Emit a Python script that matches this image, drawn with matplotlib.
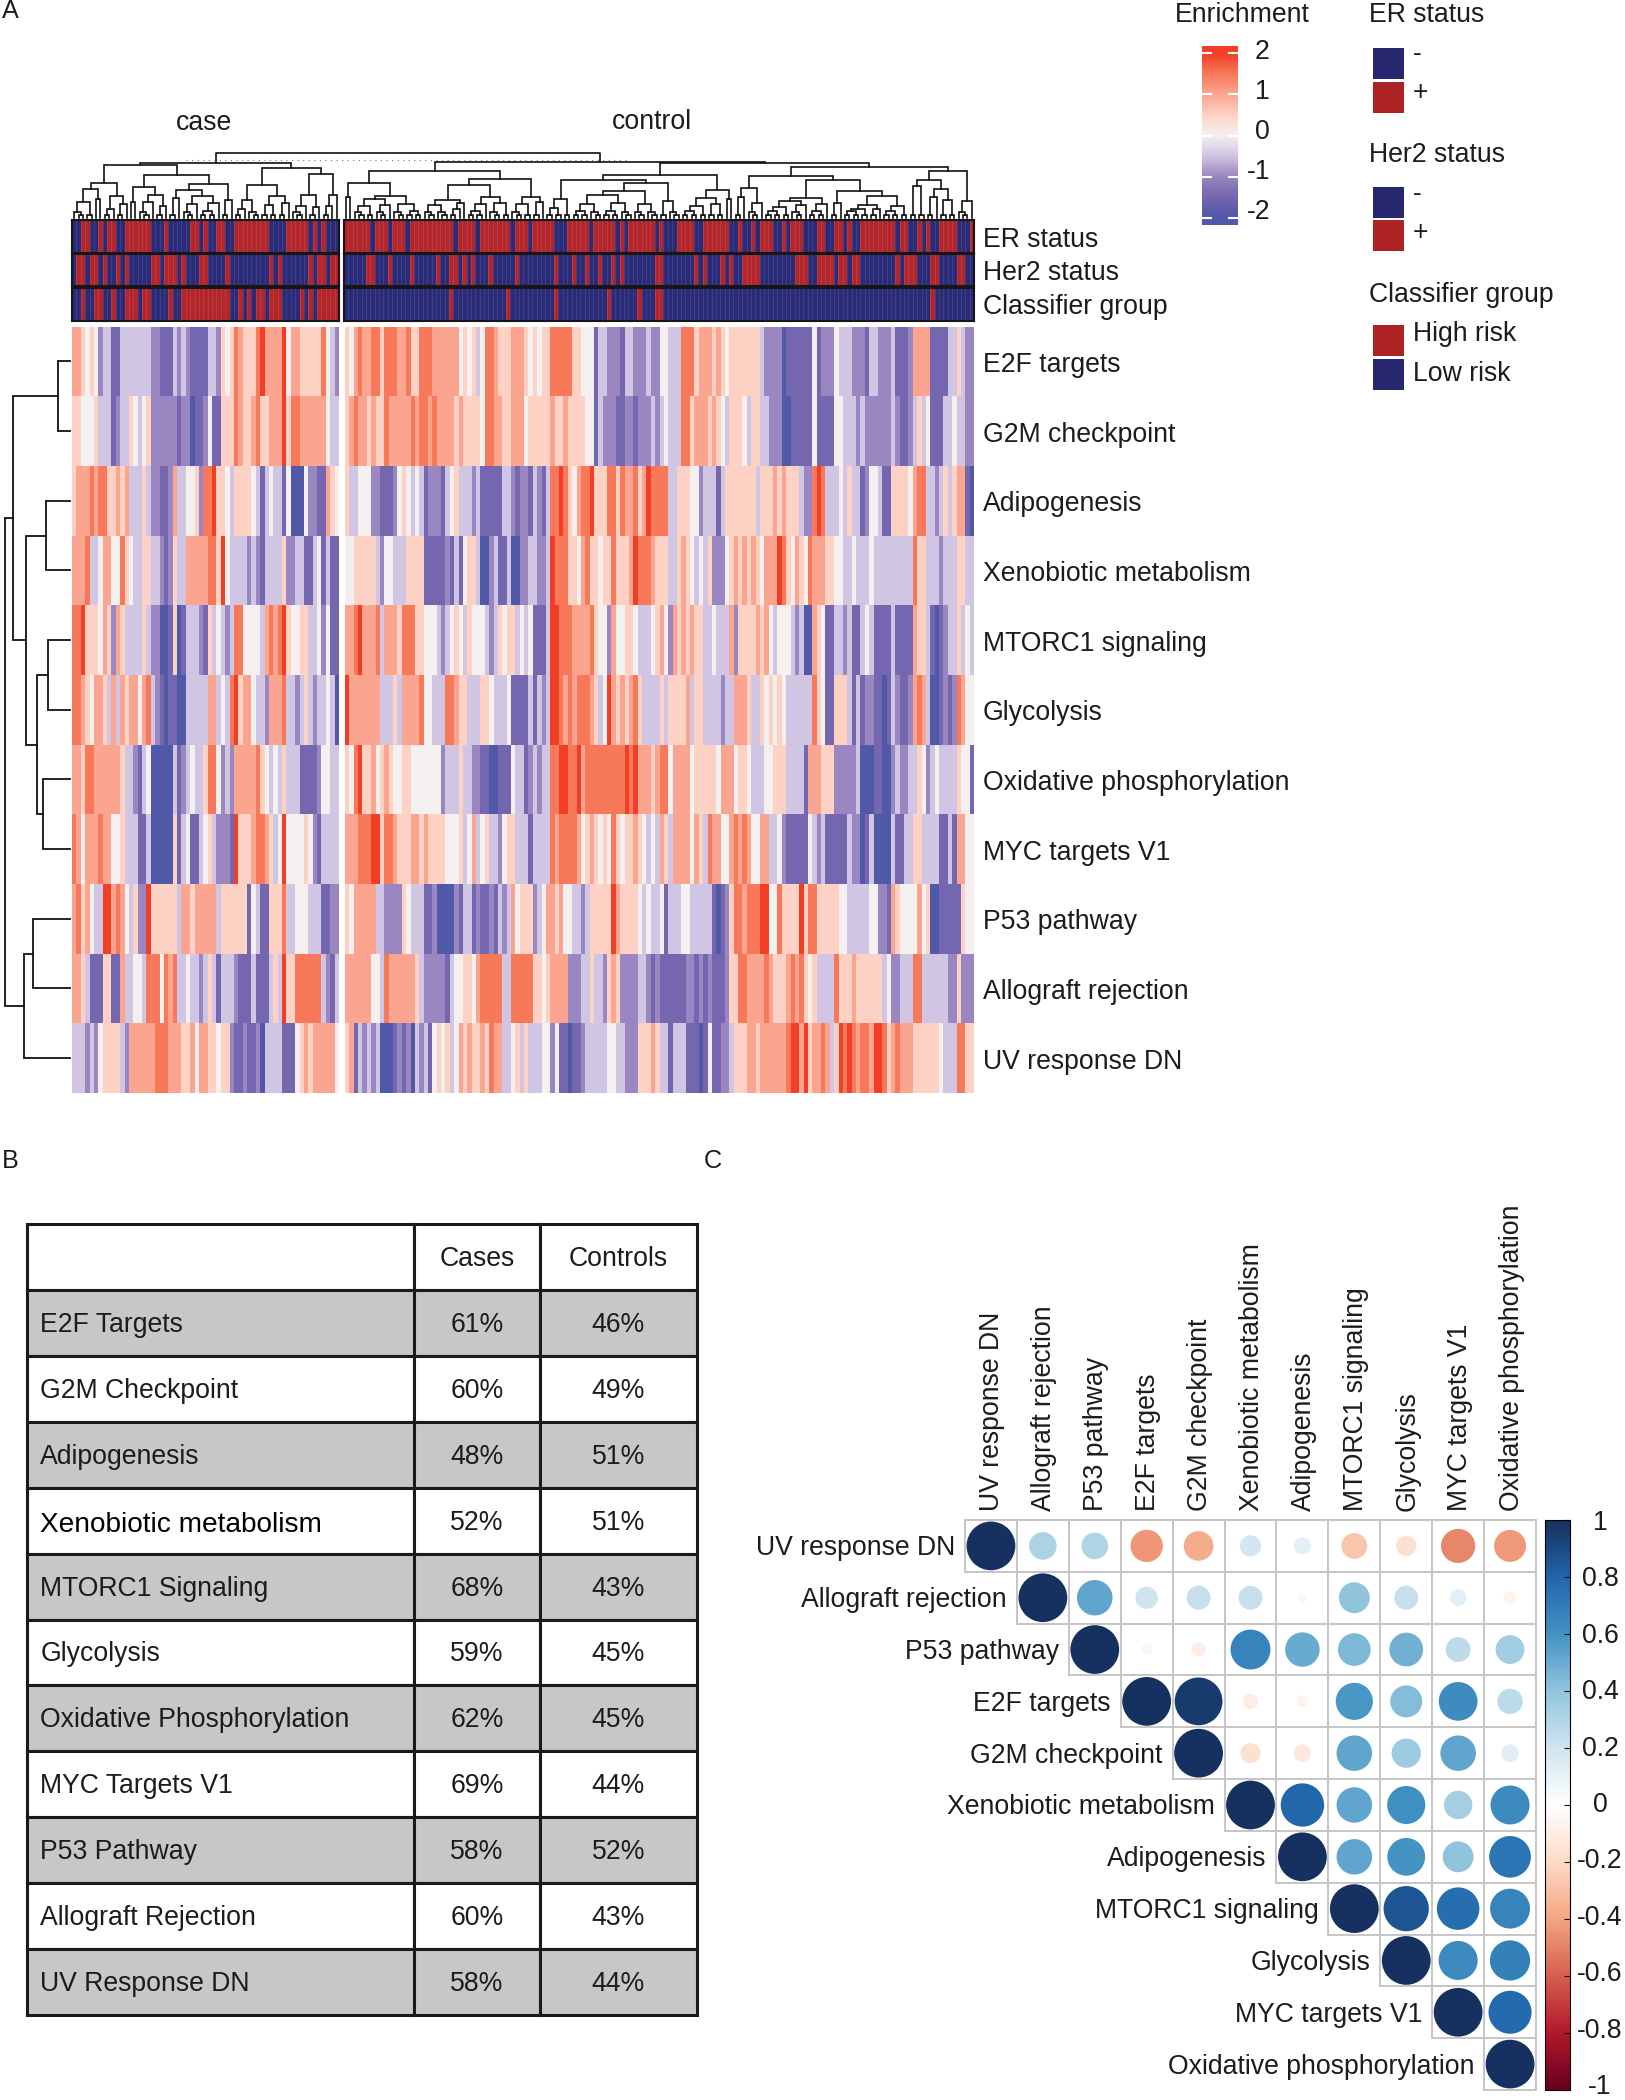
import numpy as np
import matplotlib
matplotlib.use('Agg')
import matplotlib.pyplot as plt
from matplotlib.colors import LinearSegmentedColormap, ListedColormap, Normalize
from matplotlib.cm import ScalarMappable
from matplotlib.patches import Circle, Rectangle
from matplotlib.transforms import Affine2D

plt.rcParams['font.family'] = ['Liberation Sans', 'DejaVu Sans']
W, H = 1625, 2100
FS = 19.2
TXT = '#1c1c1c'

# ---- data ----
pathways = ['E2F targets', 'G2M checkpoint', 'Adipogenesis', 'Xenobiotic metabolism', 'MTORC1 signaling',
            'Glycolysis', 'Oxidative phosphorylation', 'MYC targets V1', 'P53 pathway', 'Allograft rejection',
            'UV response DN']

# enrichment, one digit per sample: 0=-2, 4=0, 8=+2 (half steps)
heat_case = [
    '6654542331 1333333322 1113232111 1332545765 5578666684 6655555743 2',
    '5544453331 2335434522 2222122011 2411555765 5675566685 7766666643 3',
    '5666767755 6563335322 1126334452 7785543555 5431343314 0004221165 4',
    '6667334664 4754335533 2125336666 6775843333 2321333352 2331134131 1',
    '7785554652 6533335322 0015013332 1534323774 4443676785 4455334241 1',
    '7765466536 3656646732 1011003333 3663437856 6433266673 3235323343 0',
    '6657766666 6533213400 0003123433 5774232666 6675434353 3311112443 3',
    '7646667664 4533311300 0005134113 4532221855 5677653484 4445421333 3',
    '6756433886 7643522855 5555366566 6663555555 1431155573 3444333112 2',
    '6653111551 1633443777 4767334332 3531333211 1311135385 5777777321 3',
    '3332324555 5326666667 7766655646 6554552112 1120333311 1456566666 4',
]
heat_control = [
    '5467667757 7766755777 6666664545 3477655566 6545455777 7755444133 2221332223 2244333777 5666565455 5555532222 0111111412 2243332221 3322231112 6666111133 5322',
    '5676656557 6666676776 7666656555 5477665566 6455555655 6555544132 2211221222 3234333775 6665654355 5435533222 0011111411 1144333232 2222232112 3534111334 3322',
    '5334442211 1245434312 2213453332 3111113321 2213213778 7546778555 7757667568 7777335554 4233313555 5555355565 6555322787 3334353312 4431155554 6773323535 6610',
    '4455555324 4333555511 1112131455 3002311300 2233223877 7554675545 5755568777 6555335654 3435222456 5656546668 7546547666 5544334333 4333333333 7553332333 5533',
    '6678666736 6657775544 4323454354 4432354553 4341113887 7766667544 2644554333 4564265656 5533433362 5555656434 4432300654 1133231134 3111131111 6553101233 5343',
    '8666666633 3536666744 3337765533 3554333411 1131323887 6767776534 8656567533 3353555563 5533332336 6653354545 4333333754 1155531312 2110132112 6763001212 7644',
    '5478556456 5445544444 4423335332 2110011143 3123233778 8778677777 7777878666 5677466664 5555546664 5543334455 5333316665 5522222300 0110023223 3542343333 5441',
    '6667778857 7655566565 5554445346 3453324553 3313333767 7776456545 4754556543 4365366664 6537664467 6764466334 2111114323 1111132201 3000031133 5533331131 6644',
    '5466666332 2225433311 2000021331 2112132364 5552346656 4433235555 5865555434 3341333443 3333101257 7677788447 5555857755 5554433333 4422165444 4645001111 1544',
    '6666664437 6666665322 2221344554 6777773377 7775545666 6222335332 5652222332 1211111122 1212111255 7766667655 5676754533 3375556555 5553422333 7733333322 5222',
    '5613232300 0121203231 4545346565 5657663345 3533344241 1011233333 4433222555 6533133311 1014112235 5566566666 6788685667 6358787677 6887567666 5555554333 7755',
]

annot_names = ['ER status', 'Her2 status', 'Classifier group']
er_case = '0011001011 0011111100 0100000110 1001100111 1111100001 1111010100 0'
her2_case = '0110110100 1010000011 0111010001 1000010000 0000010100 0000101101 1'
group_case = '0010011001 0011101100 0010011111 1111110010 1011011100 0010101111 1'
er_control = ('1111110111 0111011111 1111101111 0111111101 1101111100 0111110111 1101011111 '
              '1010001111 0011111100 1001011100 1011100011 0011010011 1111110110 0101001111 0001')
her2_control = ('0000011000 1000010000 0100110101 0001000001 0000000010 0010010010 0101000000 '
                '0110000000 1010001010 0111100000 0001110011 1101101100 0000001011 1000110000 1100')
group_control = ('0000000000 0000000000 0000100000 0000000100 0000000010 0000000000 1000000100 '
                 '0110000000 0000000000 0000000000 0000000000 0000000000 0000000000 0000100000 0000')

# dendrograms: [height, left, right], 0 is a leaf
P = [3, 0, 0]
T = [6, 0, P]
Q = [7, P, P]

tree_case = [55,
             [53,
              [35, [29, [16, T, P], [19, 0, 0]], [22, [9, P, 0], [14, P, 0]]],
              [43,
               [31, [16, 0, 0], [23, [16, T, 0], [12, P, 0]]],
               [34, [28, [20, P, 0], [22, [14, T, 0], [15, Q, 0]]], [18, P, 0]]]],
             [50,
              [33, [18, [9, P, 0], T], [22, [13, P, P], [15, P, 0]]],
              [44, [23, [12, T, 0], [11, P, 0]], [23, [12, P, 0], 0]]]]
tree_control = [56,
                [47,
                 [35, [21, 0, 0], [22, [19, [12, T, P], [13, T, 0]], [14, T, Q]]],
                 [39,
                  [33, [18, [13, T, T], [15, [9, P, 0], 0]], [21, [14, Q, 0], [15, T, P]]],
                  [21, [14, T, P], [16, P, 0]]]],
                [55,
                 [43,
                  [38, [19, [10, P, P], P],
                   [35, [27, [23, [14, Q, T], [15, Q, T]], [14, T, T]], [17, P, T]]],
                  [28, [20, [12, Q, P], [14, P, P]], [19, 0, 0]]],
                 [51,
                  [42,
                   [30, [21, P, 0], [15, T, 0]],
                   [38,
                    [20, [17, [11, Q, P], [13, T, 0]], [14, Q, 0]],
                    [27, [15, P, 0], [22, [13, [9, Q, P], [9, P, 0]], [12, Q, P]]]]],
                  [47,
                   [38, [32, P, P], [29, [21, P, 0], [18, P, P]]],
                   [17, T, 0]]]]]
tree_rows = [65,
             [57,
              [12, 0, 0],
              [44, [24, 0, 0], [33, [22, 0, 0], [27, 0, 0]]]],
             [46, [37, 0, 0], 0]]

table_header = ['', 'Cases', 'Controls']
table_names = ['E2F Targets', 'G2M Checkpoint', 'Adipogenesis', 'Xenobiotic metabolism', 'MTORC1 Signaling',
               'Glycolysis', 'Oxidative Phosphorylation', 'MYC Targets V1', 'P53 Pathway', 'Allograft Rejection',
               'UV Response DN']
table_cases = ['61%', '60%', '48%', '52%', '68%', '59%', '62%', '69%', '58%', '60%', '58%']
table_controls = ['46%', '49%', '51%', '51%', '43%', '45%', '45%', '44%', '52%', '43%', '44%']

corr_names = ['UV response DN', 'Allograft rejection', 'P53 pathway', 'E2F targets', 'G2M checkpoint',
              'Xenobiotic metabolism', 'Adipogenesis', 'MTORC1 signaling', 'Glycolysis', 'MYC targets V1',
              'Oxidative phosphorylation']
# upper triangle, each row starts at the diagonal
corr = [
    [1, .32, .30, -.44, -.37, .19, .12, -.28, -.17, -.49, -.43],
    [1, .53, .21, .24, .24, .04, .40, .24, .12, -.07],
    [1, -.05, -.09, .67, .50, .45, .48, .26, .35],
    [1, .96, -.10, -.06, .58, .43, .63, .27],
    [1, -.17, -.13, .53, .36, .53, .13],
    [1, .79, .53, .61, .34, .64],
    [1, .53, .60, .40, .73],
    [1, .86, .76, .67],
    [1, .64, .68],
    [1, .78],
    [1],
]

enrich_ticks = [2, 1, 0, -1, -2]
corr_ticks = [1, .8, .6, .4, .2, 0, -.2, -.4, -.6, -.8, -1]

# ---- colours ----
heat_cmap = LinearSegmentedColormap.from_list('heat', ['#5058a8', '#7466af', '#9a86c0', '#d0c4e2', '#f4f0f0',
                                                       '#fdd3c6', '#fba691', '#f87a5c', '#f23e25'])
annot_cmap = ListedColormap(['#2a2b78', '#b2252b'])
corr_cmap = LinearSegmentedColormap.from_list('corr', ['#67001f', '#b2182b', '#d6604d', '#f4a582', '#fddbc7',
                                                       '#ffffff', '#d1e5f0', '#92c5de', '#4393c3', '#2166ac',
                                                       '#16305f'])
NAVY, RED = '#26276f', '#ad2222'


def digits(s):
    return np.array([int(c) for c in s.replace(' ', '')], dtype=float)


def px_axes(x0, y0, x1, y1):
    a = fig.add_axes([x0 / W, 1 - y1 / H, (x1 - x0) / W, (y1 - y0) / H])
    a.set_xticks([])
    a.set_yticks([])
    return a


def draw_tree(a, node, start, step, flip=False, lw=1.2):
    # walks the tree and returns (position, height, next free leaf)
    if node == 0:
        return start + step * 0.5, 0, start + step
    h = node[0]
    p1, h1, nxt = draw_tree(a, node[1], start, step, flip, lw)
    p2, h2, nxt = draw_tree(a, node[2], nxt, step, flip, lw)
    xs = [p1, p1, p2, p2]
    ys = [h1, h, h, h2]
    if flip:
        a.plot(ys, xs, color='#111111', lw=lw, solid_joinstyle='miter', clip_on=False)
    else:
        a.plot(xs, ys, color='#111111', lw=lw, solid_joinstyle='miter', clip_on=False)
    return (p1 + p2) / 2, h, nxt


fig = plt.figure(figsize=(W / 100, H / 100), dpi=100, facecolor='white')

# overlay for free text and the legend squares, in picture pixels
ov = fig.add_axes([0, 0, 1, 1], zorder=5)
ov.set_xlim(0, W)
ov.set_ylim(H, 0)
ov.axis('off')
ov.patch.set_alpha(0)

for s, x, y in [('A', 2, 11), ('B', 2, 1161), ('C', 704, 1161)]:
    ov.text(x, y, s, fontsize=FS - 1, color=TXT, va='center', ha='left')
ov.text(204, 123, 'case', fontsize=FS, color=TXT, ha='center', va='center')
ov.text(652, 122, 'control', fontsize=FS, color=TXT, ha='center', va='center')

# ---- A: heatmap ----
n_case, n_ctrl = len(digits(heat_case[0])), len(digits(heat_control[0]))
case_x = (72, 339)
ctrl_x = (345, 974)
heat_top, heat_bot = 326.5, 1093
row_h = (heat_bot - heat_top) / len(pathways)

mat_case = np.array([digits(r) for r in heat_case]) / 2 - 2
mat_ctrl = np.array([digits(r) for r in heat_control]) / 2 - 2
for mat, xr in [(mat_case, case_x), (mat_ctrl, ctrl_x)]:
    a = px_axes(xr[0], heat_top, xr[1], heat_bot)
    a.pcolormesh(mat, cmap=heat_cmap, vmin=-2, vmax=2, rasterized=True)
    a.set_ylim(len(pathways), 0)
    for sp in a.spines.values():
        sp.set_visible(False)

for i, name in enumerate(pathways):
    ov.text(983, heat_top + row_h * (i + 0.5) + 3.5, name, fontsize=FS, color=TXT, va='center', ha='left')

# annotation strips
strip_y = [(220, 253), (254, 286), (288, 321)]
annot_rows = [(er_case, er_control), (her2_case, her2_control), (group_case, group_control)]
label_y = [240, 273, 307]
for k, name in enumerate(annot_names):
    for s, xr in zip(annot_rows[k], [(72, 339), (344, 974)]):
        a = px_axes(xr[0], strip_y[k][0], xr[1], strip_y[k][1])
        v = digits(s).reshape(1, -1)
        a.pcolormesh(v, cmap=annot_cmap, vmin=0, vmax=1, rasterized=True)
        a.vlines(np.arange(1, v.shape[1]), 0, 1, color='white', alpha=0.14, lw=0.5)
        for sp in a.spines.values():
            sp.set_linewidth(1.5)
            sp.set_color('#161616')
    ov.text(983, label_y[k], name, fontsize=FS, color=TXT, va='center', ha='left')

# column dendrogram, one axis over both groups, x in sample widths
col_w = (339 - 72) / n_case
gap = (344 - 339) / col_w
tree_ax = px_axes(72, 153, 974, 218)
tree_ax.set_xlim(0, n_case + gap + n_ctrl)
tree_ax.set_ylim(0, 65)
tree_ax.axis('off')
x_case, h_case, _ = draw_tree(tree_ax, tree_case, 0, 1)
x_ctrl, h_ctrl, _ = draw_tree(tree_ax, tree_control, n_case + gap, 1)
tree_ax.plot([x_case, x_case, x_ctrl, x_ctrl], [h_case, 65, 65, h_ctrl], color='#111111', lw=1.2, clip_on=False)
tree_ax.plot([26, 127], [58, 58], color='#777777', lw=0.8, ls=(0, (1, 4)))

# row dendrogram
row_ax = px_axes(0, heat_top, 70, heat_bot)
row_ax.set_xlim(70, 0)
row_ax.set_ylim(len(pathways), 0)
row_ax.axis('off')
draw_tree(row_ax, tree_rows, 0, 1, flip=True, lw=1.3)

# enrichment colour bar
enrich_ax = px_axes(1202, 46, 1238, 225)
enrich_ax.imshow(np.linspace(2.17, -2.17, 256).reshape(-1, 1), aspect='auto', cmap=heat_cmap, vmin=-2, vmax=2,
                 extent=[0, 1, -2.17, 2.17])
for sp in enrich_ax.spines.values():
    sp.set_visible(False)
for t in enrich_ticks:
    enrich_ax.plot([0, 0.25], [t, t], color='white', lw=1.5)
    enrich_ax.plot([0.75, 1], [t, t], color='white', lw=1.5)
    ov.text(1270, 132 - 40 * t, str(t), fontsize=FS, color=TXT, ha='right', va='center')
enrich_ax.set_xlim(0, 1)
enrich_ax.set_ylim(-2.17, 2.17)
ov.text(1175, 15, 'Enrichment', fontsize=FS, color=TXT, va='center', ha='left')

# legends
ov.text(1369, 15, 'ER status', fontsize=FS, color=TXT, va='center', ha='left')
ov.text(1369, 155, 'Her2 status', fontsize=FS, color=TXT, va='center', ha='left')
ov.text(1369, 295, 'Classifier group', fontsize=FS, color=TXT, va='center', ha='left')
legend_boxes = [(48, NAVY, '-', 54), (82, RED, '+', 93), (187, NAVY, '-', 194), (220, RED, '+', 233),
                (325, RED, 'High risk', 334), (359, NAVY, 'Low risk', 374)]
for y0, col, lab, ty in legend_boxes:
    ov.add_patch(Rectangle((1373, y0), 31, 31, facecolor=col, edgecolor='none'))
    ov.text(1413, ty, lab, fontsize=FS, color=TXT, va='center', ha='left')

# ---- B: table ----
tab_ax = px_axes(27, 1224, 697, 2015)
tab_ax.axis('off')
cells = [table_header] + [[a1, b1, c1] for a1, b1, c1 in zip(table_names, table_cases, table_controls)]
tab = tab_ax.table(cellText=cells, bbox=[0, 0, 1, 1], colWidths=[387 / 670, 126 / 670, 157 / 670], cellLoc='center')
tab.auto_set_font_size(False)
for (r, c), cell in tab.get_celld().items():
    cell.set_edgecolor('#1a1a1a')
    cell.set_linewidth(2.2)
    cell.set_facecolor('#c6c7c9' if r % 2 == 1 else 'white')
    cell.get_text().set_fontsize(FS)
    cell.get_text().set_color(TXT)
    # cell text is placed in display pixels, so this just nudges it down
    cell.get_text().set_transform(Affine2D().translate(0, -2))
    if c == 0:
        cell.get_text().set_ha('left')
        cell.PAD = 0.034
        cell._loc = 'left'
tab[(4, 0)].get_text().set_fontsize(20.2)
tab[(4, 0)].get_text().set_color('black')
tab[(4, 0)].get_text().set_transform(Affine2D().translate(0, -4))

# ---- C: correlation plot ----
corr_ax = px_axes(965, 1520, 1536, 2090)
n = len(corr_names)
corr_ax.set_xlim(0, n)
corr_ax.set_ylim(n, 0)
corr_ax.axis('off')
norm = Normalize(-1, 1)
for i, row in enumerate(corr):
    for j, val in enumerate(row):
        x = i + j
        corr_ax.add_patch(Rectangle((x, i), 1, 1, facecolor='white', edgecolor='#c6c6c6', lw=1.4, clip_on=False))
        corr_ax.add_patch(Circle((x + 0.5, i + 0.5), 0.47 * np.sqrt(abs(val)), facecolor=corr_cmap(norm(val)),
                                 edgecolor='none', zorder=3))

cell_px = (1536 - 965) / n
for i, name in enumerate(corr_names):
    ov.text(965 + cell_px * i - 10, 1520 + cell_px * (i + 0.5) + 2, name, fontsize=FS, color=TXT, ha='right',
            va='center')
    ov.text(965 + cell_px * (i + 0.5) + 1.5, 1511, name, fontsize=FS, color=TXT, ha='center', va='bottom',
            rotation=90)

cb_ax = fig.add_axes([1545 / W, 1 - 2090 / H, 25 / W, 570 / H])
cb = fig.colorbar(ScalarMappable(norm=norm, cmap=corr_cmap), cax=cb_ax, ticks=corr_ticks)
cb.outline.set_linewidth(0.8)
cb.ax.tick_params(direction='in', length=4, width=0.8, color='#111111', labelright=False)
# labels sit a little tighter than the ticks in the original
for k, t in enumerate(corr_ticks):
    ov.text(1600, 1523 + 56.4 * k, '%g' % t, fontsize=FS, color=TXT, ha='center', va='center')

fig.savefig('out.png', dpi=100, facecolor='white')
